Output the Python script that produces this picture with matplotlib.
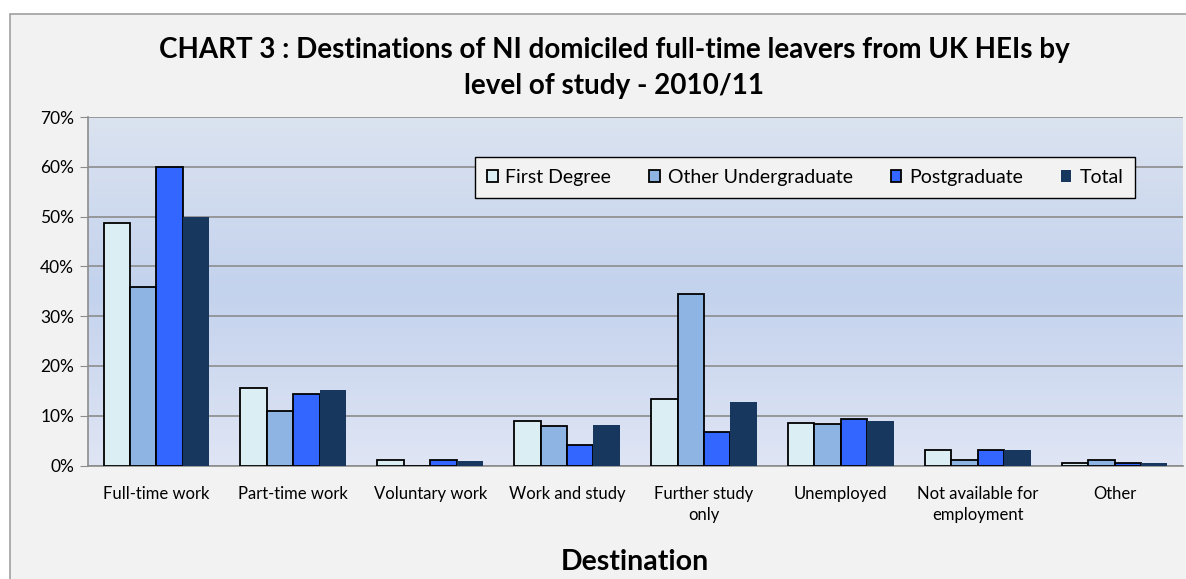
import numpy as np
import matplotlib
matplotlib.use("Agg")
import matplotlib.pyplot as plt
from matplotlib.patches import Rectangle
from matplotlib.colors import LinearSegmentedColormap
from matplotlib.ticker import FuncFormatter

plt.rcParams['font.family'] = ['Lato', 'DejaVu Sans']

# data (percent of leavers)
destinations = ["Full-time work", "Part-time work", "Voluntary work", "Work and study",
                "Further study\nonly", "Unemployed", "Not available for\nemployment", "Other"]
first_degree = [48.7, 15.6, 1.1, 8.9, 13.4, 8.6, 3.2, 0.5]
other_ug = [35.8, 11.0, 0.0, 8.0, 34.4, 8.3, 1.1, 1.1]
postgrad = [60.0, 14.3, 1.1, 4.1, 6.8, 9.4, 3.2, 0.5]
total = [50.0, 15.2, 1.0, 8.1, 12.8, 8.9, 3.2, 0.5]

series_names = ["First Degree", "Other Undergraduate", "Postgraduate", "Total"]
series = [first_degree, other_ug, postgrad, total]
colors = ["#daeef3", "#8eb4e3", "#3366ff", "#17375e"]
edges = ["black", "black", "black", "none"]

W, H = 1186, 579
fig = plt.figure(figsize=(W / 100, H / 100), dpi=100)
fig.patch.set_facecolor("white")

# chart area box (grey fill, border on left and top)
fig.patches.append(Rectangle((10 / W, -0.01), 1.2, 1 - 14 / H + 0.01, transform=fig.transFigure,
                             facecolor="#f2f2f2", edgecolor="#a0a0a0", linewidth=1.2, zorder=-5))

ax = fig.add_axes([88 / W, 1 - 465.5 / H, (1183 - 88) / W, (465.5 - 117) / H])
ax.set_facecolor("none")

# gradient plot-area background
grad_cmap = LinearSegmentedColormap.from_list(
    "bg", [(0.0, "#dfe5f4"), (0.5, "#c3d2ed"), (1.0, "#dbe3f0")])
grad = np.linspace(0, 1, 256).reshape(-1, 1)
ax.imshow(grad, aspect="auto", cmap=grad_cmap, extent=[0, 1, 0, 1],
          transform=ax.transAxes, origin="lower", zorder=0)

x = np.arange(len(destinations))
bw = 0.193
for i, (vals, name) in enumerate(zip(series, series_names)):
    ax.bar(x + (i - 1.5) * bw, vals, width=bw, color=colors[i], edgecolor=edges[i],
           linewidth=1.3, label=name, zorder=3)

ax.set_xlim(-0.5, len(destinations) - 0.5)
ax.set_ylim(0, 70)
ax.set_yticks(np.arange(0, 71, 10))
ax.yaxis.set_major_formatter(FuncFormatter(lambda v, p: f"{int(v)}%"))
ax.grid(axis="y", color="#8c8c8c", linewidth=1.2, zorder=1)
ax.set_xticks(x)
ax.set_xticklabels(destinations, fontsize=12, linespacing=1.35)
ax.tick_params(axis="x", length=0, pad=15)
ax.tick_params(axis="y", length=6, labelsize=12.5, color="#8c8c8c", pad=4, direction="out")

for s in ["top", "right"]:
    ax.spines[s].set_visible(False)
ax.spines["left"].set_color("#8c8c8c")
ax.spines["bottom"].set_color("#8c8c8c")
ax.spines["left"].set_linewidth(1.2)
ax.spines["bottom"].set_linewidth(1.2)

fig.text(614 / W, 1 - 50 / H, "CHART 3 : Destinations of NI domiciled full-time leavers from UK HEIs by",
         ha="center", va="center", fontsize=20, fontweight="bold")
fig.text(614 / W, 1 - 86 / H, "level of study - 2010/11",
         ha="center", va="center", fontsize=20, fontweight="bold")
fig.text(635 / W, 1 - 562 / H, "Destination", ha="center", va="center",
         fontsize=20.5, fontweight="bold")

leg = ax.legend(loc="center", bbox_to_anchor=(805 / W, 1 - 177.5 / H),
                bbox_transform=fig.transFigure, ncol=4,
                fontsize=14, frameon=True, fancybox=False, edgecolor="black",
                facecolor="#f2f2f2", framealpha=1, handlelength=0.55, handleheight=0.55,
                handletextpad=0.4, columnspacing=1.95, borderpad=0.6, borderaxespad=0)
leg.get_frame().set_linewidth(1.0)
leg.set_zorder(10)

fig.savefig("out.png", dpi=100)
